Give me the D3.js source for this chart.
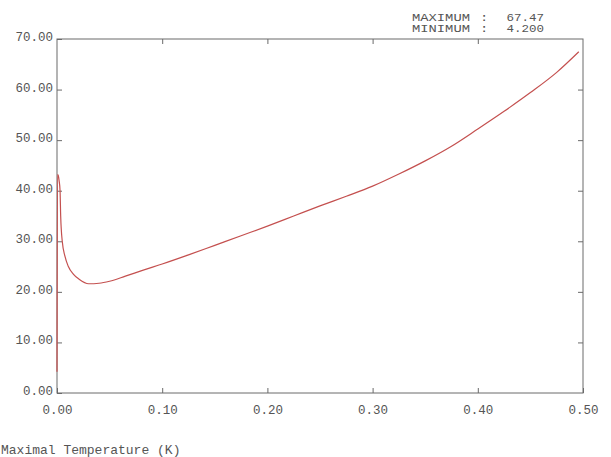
<!DOCTYPE html>
<html>
<head>
<meta charset="utf-8">
<script src="https://cdn.jsdelivr.net/npm/d3@7"></script>
<style>
  html, body { margin: 0; padding: 0; background: #fff; }
  svg { display: block; }
  text { font-family: "Courier New", "Liberation Mono", monospace; fill: #555; }
</style>
</head>
<body>
<svg id="chart" width="611" height="457"></svg>
<script>
// Position along the member and maximal temperature (K) at each station
const positions = [0, 0.0005, 0.0012, 0.002, 0.0029, 0.0035, 0.005, 0.0076, 0.0108, 0.0155,
  0.021, 0.03, 0.04, 0.05, 0.065, 0.082, 0.1, 0.125, 0.15, 0.175, 0.2, 0.225, 0.25,
  0.275, 0.3, 0.325, 0.35, 0.375, 0.4, 0.425, 0.45, 0.475, 0.496];
const temperatures = [4.2, 43.2, 43.0, 42.0, 40.0, 35.0, 30.0, 27.0, 25.0, 23.5,
  22.5, 21.6, 21.7, 22.1, 23.1, 24.3, 25.5, 27.3, 29.2, 31.1, 33.0, 35.0, 37.0,
  38.9, 40.9, 43.3, 45.9, 48.8, 52.2, 55.7, 59.4, 63.4, 67.47];

const xTicks = [0, 0.1, 0.2, 0.3, 0.4, 0.5];
const yTicks = [0, 10, 20, 30, 40, 50, 60, 70];
const summaryLabels = ["MAXIMUM", "MINIMUM"];
const summaryValues = ["67.47", "4.200"];
const axisTitle = "Maximal Temperature (K)";

const svg = d3.select("#chart");
const plot = { left: 57, right: 583, top: 39, bottom: 393 };

const x = d3.scaleLinear().domain([0, 0.5]).range([plot.left, plot.right]);
const y = d3.scaleLinear().domain([0, 70]).range([plot.bottom, plot.top]);

const frameColor = "#6a6a6a";
const fontSize = "12.5px";

function styleAxis(g) {
  g.selectAll(".domain").remove();
  g.selectAll("line").attr("stroke", frameColor);
  g.selectAll("text").attr("fill", "#555").style("font-size", fontSize)
    .style("font-family", '"Courier New", "Liberation Mono", monospace');
}

// Left axis: labels outside, ticks pointing inward
svg.append("g").attr("transform", `translate(${plot.left},0)`)
  .call(d3.axisLeft(y).tickValues(yTicks).tickSizeInner(-5).tickSizeOuter(0)
    .tickPadding(4).tickFormat(d3.format(".2f")))
  .call(styleAxis)
  .call(g => g.selectAll("text").attr("dy", "0.12em"));

// Right axis: ticks only
svg.append("g").attr("transform", `translate(${plot.right},0)`)
  .call(d3.axisRight(y).tickValues(yTicks.slice(1, -1)).tickSizeInner(-5).tickSizeOuter(0).tickFormat(""))
  .call(styleAxis);

// Bottom axis: labels below, ticks pointing inward
svg.append("g").attr("transform", `translate(0,${plot.bottom})`)
  .call(d3.axisBottom(x).tickValues(xTicks).tickSizeInner(-5).tickSizeOuter(0)
    .tickPadding(12).tickFormat(d3.format(".2f")))
  .call(styleAxis);

// Top axis: ticks only
svg.append("g").attr("transform", `translate(0,${plot.top})`)
  .call(d3.axisTop(x).tickValues(xTicks.slice(1, -1)).tickSizeInner(-5).tickSizeOuter(0).tickFormat(""))
  .call(styleAxis);

// Plot frame
svg.append("rect")
  .attr("x", plot.left).attr("y", plot.top)
  .attr("width", plot.right - plot.left).attr("height", plot.bottom - plot.top)
  .attr("fill", "none").attr("stroke", frameColor).attr("stroke-width", 1);

// Temperature curve
const line = d3.line()
  .x((d, i) => x(positions[i]))
  .y(d => y(d))
  .curve(d3.curveMonotoneX);

svg.append("path")
  .datum(temperatures)
  .attr("d", line)
  .attr("fill", "none")
  .attr("stroke", "#c4504f")
  .attr("stroke-width", 1.2);

// Extremes summary, upper right (compact, horizontally stretched type)
const summary = svg.append("g").style("font-size", "10px");
summaryLabels.forEach((lab, i) => {
  const by = 21 + i * 11;
  summary.append("text").attr("transform", `translate(412,${by}) scale(1.38,1)`).text(lab);
  summary.append("text").attr("transform", `translate(480,${by}) scale(1.38,1)`).text(":");
  summary.append("text").attr("transform", `translate(544,${by}) scale(1.25,1)`)
    .attr("text-anchor", "end").text(summaryValues[i]);
});

// Quantity title, lower left
svg.append("text")
  .attr("x", 1).attr("y", 454)
  .style("font-size", "13px")
  .text(axisTitle);
</script>
</body>
</html>
